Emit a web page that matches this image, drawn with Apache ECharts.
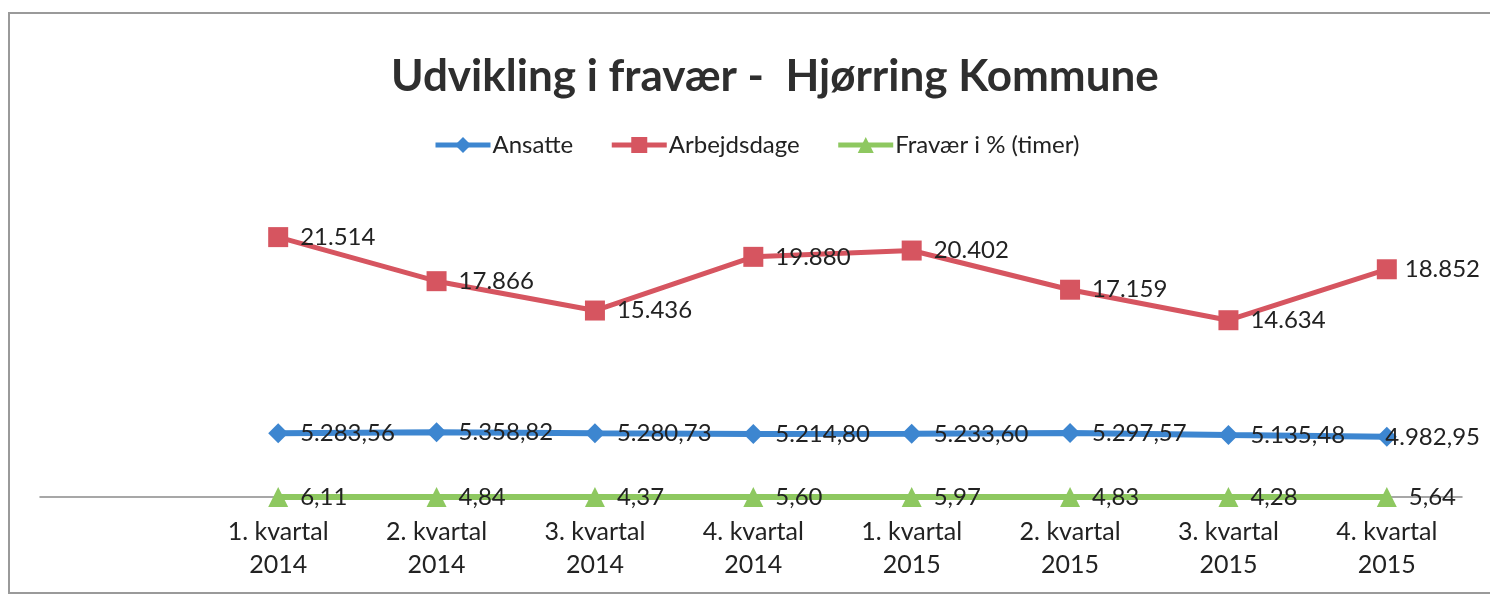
<!DOCTYPE html>
<html>
<head>
<meta charset="utf-8">
<script src="https://cdn.jsdelivr.net/npm/echarts@6/dist/echarts.min.js"></script>
<style>
  html, body { margin: 0; padding: 0; background: #fff; }
  #chart { width: 1490px; height: 601px; position: relative; }
  .frame {
    position: absolute; left: 8px; top: 12px; width: 1500px; height: 578px;
    border-left: 2px solid #9a9a9a; border-top: 2px solid #9a9a9a; border-bottom: 2px solid #9a9a9a;
    pointer-events: none;
  }
</style>
</head>
<body>
<div id="chart"></div>
<div class="frame"></div>
<script>
const categories = [
  '1. kvartal\n2014', '2. kvartal\n2014', '3. kvartal\n2014', '4. kvartal\n2014',
  '1. kvartal\n2015', '2. kvartal\n2015', '3. kvartal\n2015', '4. kvartal\n2015'
]
const ansatte = [5283.56, 5358.82, 5280.73, 5214.80, 5233.60, 5297.57, 5135.48, 4982.95]
const arbejdsdage = [21514, 17866, 15436, 19880, 20402, 17159, 14634, 18852]
const fravaer = [6.11, 4.84, 4.37, 5.60, 5.97, 4.83, 4.28, 5.64]

const FONT = 'Lato, "Open Sans", sans-serif'

// Danish number format: '.' thousands, ',' decimals
function fmtDa(v, decimals) {
  const parts = v.toFixed(decimals).split('.')
  parts[0] = parts[0].replace(/\B(?=(\d{3})+(?!\d))/g, '.')
  return decimals ? parts[0] + ',' + parts[1] : parts[0]
}

const chart = echarts.init(document.getElementById('chart'), null, { renderer: 'canvas' })

const labelStyle = {
  show: true,
  position: 'right',
  distance: 12,
  color: '#222',
  fontFamily: FONT,
  fontSize: 24
}

// keep labels inside the canvas (Excel pulls the last one in)
function keepInside(params) {
  const r = params.labelRect
  const maxRight = chart.getWidth() - 10
  if (r.x + r.width > maxRight) {
    return { x: maxRight - r.width, y: r.y, align: 'left', verticalAlign: 'top' }
  }
}

chart.setOption({
  animation: false,
  backgroundColor: '#fff',
  title: {
    text: 'Udvikling i fravær -  Hjørring Kommune',
    left: 386,
    top: 50,
    textStyle: { fontFamily: FONT, fontSize: 44, fontWeight: 'bold', color: '#2e2e2e' }
  },
  legend: {
    left: 428,
    top: 128,
    itemWidth: 55,
    itemHeight: 20,
    itemGap: 36,
    lineStyle: { width: 5 },
    textStyle: { fontFamily: FONT, fontSize: 24, color: '#222', padding: [0, 0, 0, -3] },
    data: ['Ansatte', 'Arbejdsdage', 'Fravær i % (timer)']
  },
  grid: [
    { left: 199, right: 24, top: 195, bottom: 104 },
    { left: 40, right: 28, top: 195, bottom: 104 }
  ],
  xAxis: [
    {
      type: 'category',
      gridIndex: 0,
      data: categories,
      boundaryGap: true,
      axisLine: { show: false },
      axisTick: { show: false },
      axisLabel: {
        color: '#222', fontFamily: FONT, fontSize: 25, lineHeight: 33, margin: 18
      }
    },
    {
      type: 'category',
      gridIndex: 1,
      data: categories,
      axisLine: { show: true, lineStyle: { color: '#8a8a8a', width: 1.5 } },
      axisTick: { show: false },
      axisLabel: { show: false }
    }
  ],
  yAxis: [
    { type: 'value', gridIndex: 0, min: 0, max: 25000, show: false, splitLine: { show: false } },
    { type: 'value', gridIndex: 1, min: 0, max: 25000, show: false, splitLine: { show: false } }
  ],
  series: [
    {
      name: 'Ansatte',
      type: 'line',
      data: ansatte,
      symbol: 'diamond',
      symbolSize: 20,
      z: 3,
      lineStyle: { color: '#3d86d0', width: 6 },
      itemStyle: { color: '#3d86d0' },
      label: { ...labelStyle, formatter: p => fmtDa(p.value, 2) },
      labelLayout: keepInside
    },
    {
      name: 'Arbejdsdage',
      type: 'line',
      data: arbejdsdage,
      symbol: 'rect',
      symbolSize: 20,
      z: 3,
      lineStyle: { color: '#d65560', width: 5 },
      itemStyle: { color: '#d65560' },
      label: { ...labelStyle, formatter: p => fmtDa(p.value, 0) },
      labelLayout: keepInside
    },
    {
      name: 'Fravær i % (timer)',
      type: 'line',
      data: fravaer,
      symbol: 'triangle',
      symbolSize: 20,
      z: 4,
      lineStyle: { color: '#8ec860', width: 6 },
      itemStyle: { color: '#8ec860' },
      label: { ...labelStyle, formatter: p => fmtDa(p.value, 2) },
      labelLayout: keepInside
    }
  ]
})
</script>
</body>
</html>
